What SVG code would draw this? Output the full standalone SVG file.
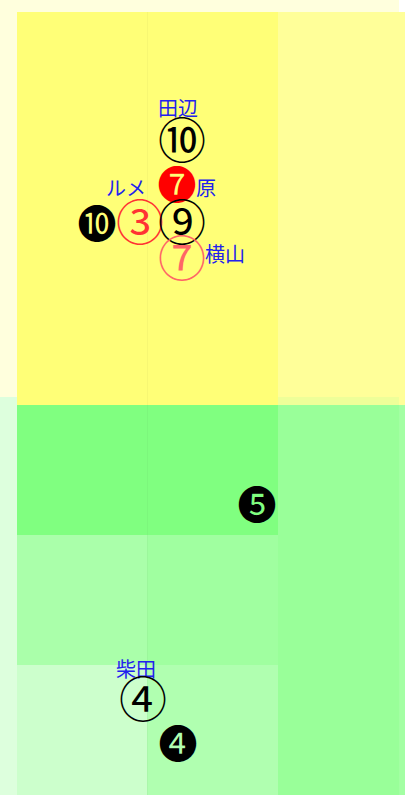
<svg xmlns="http://www.w3.org/2000/svg" width="405" height="795" viewBox="0 0 405 795">
<style>
.lbl{font-family:"Noto Sans CJK JP",sans-serif;font-size:20px;fill:#2222ee}
.num{font-family:"Noto Sans CJK JP",serif;font-size:48px;text-anchor:middle;dominant-baseline:central}
.neg{font-family:"Noto Sans CJK JP",serif;font-size:39px;text-anchor:middle;dominant-baseline:central}
</style>
<g id="background">
<rect x="0" y="0" width="399" height="397" fill="#ffffdd"/>
<rect x="0" y="397" width="399" height="398" fill="#ddffdd"/>
<rect x="17" y="12" width="261" height="393" fill="#ffff77"/>
<rect x="278" y="12" width="127" height="393" fill="#ffff99"/>
<rect x="278" y="397" width="121" height="8" fill="#eeff99"/>
<rect x="17" y="405" width="261" height="130" fill="#80ff80"/>
<rect x="278" y="405" width="127" height="390" fill="#99ff99"/>
<rect x="399" y="405" width="6" height="390" fill="#a3ffa3"/>
<rect x="17" y="535" width="130" height="130" fill="#aaffaa"/>
<rect x="147" y="535" width="131" height="130" fill="#a0ffa0"/>
<rect x="17" y="665" width="130" height="130" fill="#ccffcc"/>
<rect x="147" y="665" width="131" height="130" fill="#b0ffb0"/>
<line x1="147.5" y1="12" x2="147.5" y2="795" stroke="#000" stroke-opacity="0.03"/>
</g>
<g id="n-tanabe"><text class="lbl" x="158" y="116">田辺</text><text class="num" x="182" y="137">⑩</text></g>
<g id="n-hara"><text class="lbl" x="196" y="196">原</text><text class="neg" x="177" y="182" fill="#ff0000">❼</text></g>
<g id="n-lemaire"><text class="lbl" x="106" y="196">ルメ</text><text class="num" x="140" y="219" fill="#ff3333">③</text></g>
<g id="n-10b"><text class="neg" x="97" y="221">❿</text></g>
<g id="n-9"><text class="num" x="182" y="219">⑨</text></g>
<g id="n-yokoyama"><text class="num" x="182" y="255" fill="#ff6666">⑦</text><text class="lbl" x="205" y="262">横山</text></g>
<g id="n-5"><text class="neg" x="257" y="502">❺</text></g>
<g id="n-shibata"><text class="lbl" x="116" y="677">柴田</text><text class="num" x="143" y="696">④</text></g>
<g id="n-4"><text class="neg" x="178" y="741">❹</text></g>
<g id="connectors"/>
</svg>
